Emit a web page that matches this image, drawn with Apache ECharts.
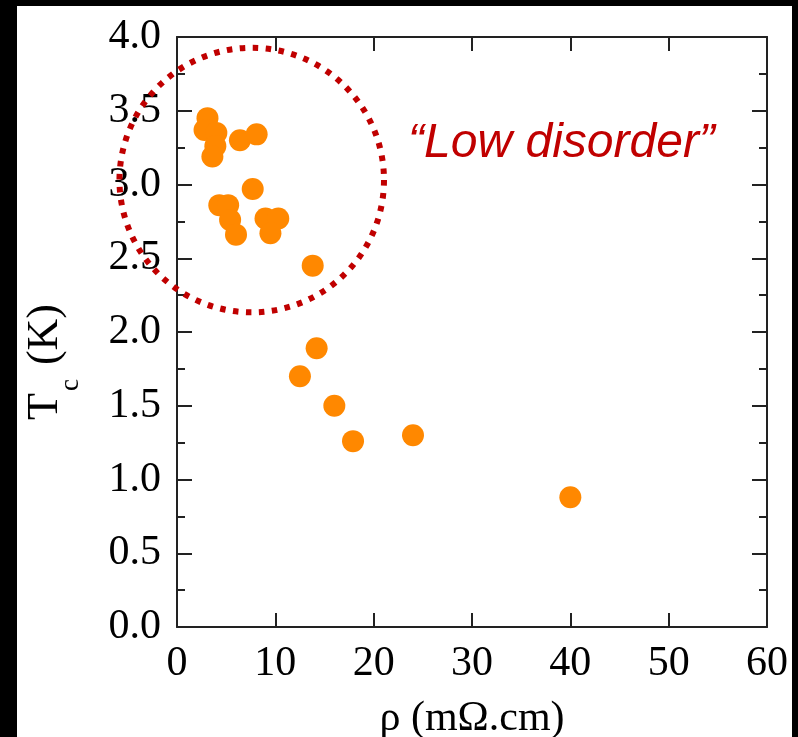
<!DOCTYPE html>
<html>
<head>
<meta charset="utf-8">
<script src="https://cdn.jsdelivr.net/npm/echarts@6/dist/echarts.min.js"></script>
<style>
    html, body { margin: 0; padding: 0; background: #000; width: 798px; height: 737px; overflow: hidden; }
    #tcChart { position: absolute; left: 17px; top: 6px; width: 775px; height: 731px; background: #fff; }
</style>
</head>
<body>
<div id="tcChart"></div>
<script>
// resistivity (mOhm.cm) and Tc (K)
var rhoValues = [3.1, 2.8, 4.0, 3.9, 3.6, 6.4, 8.1, 7.7, 4.3, 5.2, 5.4, 6.0, 9.0, 10.3, 9.5, 13.8, 14.2, 12.5, 16.0, 17.9, 24.0, 40.0];
var tcValues = [3.45, 3.37, 3.35, 3.26, 3.19, 3.30, 3.34, 2.97, 2.86, 2.86, 2.76, 2.66, 2.77, 2.77, 2.67, 2.45, 1.89, 1.70, 1.50, 1.26, 1.30, 0.88];
var xTicks = [0, 10, 20, 30, 40, 50, 60];
var yTicks = [0, 0.5, 1, 1.5, 2, 2.5, 3, 3.5, 4];

// annotation: dotted ring around the low-disorder group, and its label
var ringCenter = [7.6, 3.03];
var ringRadiusX = 13.45;
var noteAnchor = [23.5, 3.28];
var noteText = '\u201cLow disorder\u201d';

var serif = "'Liberation Serif', 'Times New Roman', serif";
var axisColor = '#222';

var points = [];
for (var i = 0; i < rhoValues.length; i++) {
    points.push([rhoValues[i], tcValues[i]]);
}

var tcChart = echarts.init(document.getElementById('tcChart'));

function xAxisOf(pos, withLabels) {
    return {
        type: 'value',
        position: pos,
        min: xTicks[0],
        max: xTicks[xTicks.length - 1],
        interval: xTicks[1] - xTicks[0],
        name: withLabels ? '\u03c1 (m\u03a9.cm)' : '',
        nameLocation: 'middle',
        nameGap: 71,
        nameTextStyle: { fontFamily: serif, fontSize: 42, color: '#000' },
        axisLine: { show: true, onZero: false, lineStyle: { color: axisColor, width: 2 } },
        axisTick: { show: true, inside: true, length: 14, lineStyle: { color: axisColor, width: 2 } },
        axisLabel: {
            show: withLabels,
            margin: 16,
            fontFamily: serif,
            fontSize: 42,
            color: '#000'
        },
        splitLine: { show: false }
    };
}

function yAxisOf(pos, withLabels) {
    return {
        type: 'value',
        position: pos,
        min: yTicks[0],
        max: yTicks[yTicks.length - 1],
        interval: yTicks[1] - yTicks[0],
        name: withLabels ? '{t|T}{sub|c}{t| (K)}' : '',
        nameLocation: 'middle',
        nameRotate: 90,
        nameGap: 104,
        nameTextStyle: {
            padding: [0, 60, 0, 0],
            rich: {
                t: { fontFamily: serif, fontSize: 44, lineHeight: 50, color: '#000', verticalAlign: 'top' },
                sub: { fontFamily: serif, fontSize: 27, lineHeight: 27, color: '#000', verticalAlign: 'top', padding: [34, 3, 0, 2] }
            }
        },
        axisLine: { show: true, onZero: false, lineStyle: { color: axisColor, width: 2 } },
        axisTick: { show: true, inside: true, length: 15, lineStyle: { color: axisColor, width: 2 } },
        minorTick: { show: true, splitNumber: 2, length: 8, lineStyle: { color: axisColor, width: 2 } },
        axisLabel: {
            show: withLabels,
            margin: 16,
            fontFamily: serif,
            fontSize: 42,
            color: '#000',
            formatter: function (v) { return v.toFixed(1); }
        },
        splitLine: { show: false },
        minorSplitLine: { show: false }
    };
}

tcChart.setOption({
    animation: false,
    backgroundColor: '#fff',
    grid: { left: 160, top: 31, right: 25, bottom: 110, containLabel: false, outerBoundsMode: 'none' },
    xAxis: [xAxisOf('bottom', true), xAxisOf('top', false)],
    yAxis: [yAxisOf('left', true), yAxisOf('right', false)],
    series: [{
        type: 'scatter',
        data: points,
        symbol: 'circle',
        symbolSize: 22,
        itemStyle: { color: '#ff8800', opacity: 1 },
        z: 3
    }]
});

// place the ring and its label through the axes' own scales
var c = tcChart.convertToPixel({ gridIndex: 0 }, ringCenter);
var edge = tcChart.convertToPixel({ gridIndex: 0 }, [ringCenter[0] + ringRadiusX, ringCenter[1]]);
var note = tcChart.convertToPixel({ gridIndex: 0 }, noteAnchor);

tcChart.setOption({
    graphic: [{
        type: 'circle',
        shape: { cx: c[0], cy: c[1], r: edge[0] - c[0] },
        style: { fill: 'none', stroke: '#c00000', lineWidth: 6, lineDash: [5.5, 7.5] },
        z: 10
    }, {
        type: 'text',
        x: note[0],
        y: note[1],
        style: {
            text: noteText,
            fill: '#c00000',
            font: 'italic 48px "Liberation Sans", Arial, sans-serif',
            textAlign: 'left',
            textVerticalAlign: 'middle'
        },
        z: 10
    }]
});
</script>
</body>
</html>
